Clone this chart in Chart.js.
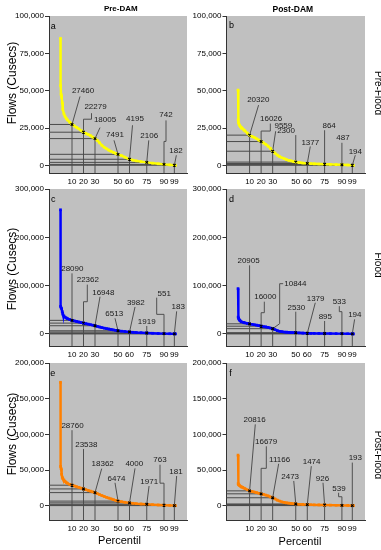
<!DOCTYPE html>
<html><head><meta charset="utf-8">
<script src="https://cdn.jsdelivr.net/npm/chart.js@4.4.0/dist/chart.umd.min.js"></script>
<style>
body{margin:0;background:#fff;width:381px;height:550px;overflow:hidden;position:relative;font-family:"Liberation Sans",Arial,sans-serif;}
canvas{position:absolute;left:0;top:0;}
.t{position:absolute;white-space:nowrap;color:#000;line-height:1;transform-origin:center center;}
</style></head><body>
<canvas id="ca" width="381" height="550"></canvas>
<canvas id="cb" width="381" height="550"></canvas>
<canvas id="cc" width="381" height="550"></canvas>
<canvas id="cd" width="381" height="550"></canvas>
<canvas id="ce" width="381" height="550"></canvas>
<canvas id="cf" width="381" height="550"></canvas>
<script>
// ---------------- DATA ----------------
const PCT_MARKS = [10, 20, 30, 50, 60, 75, 90, 99];
const CURVE_PCT = [0, 0.1, 0.5, 1, 1.5, 2, 3, 4, 5, 6, 8, 10, 12, 14, 16, 18, 20, 22, 24, 26, 28, 30, 32, 34, 36, 38, 40, 42, 44, 46, 48, 50, 53, 56, 60, 63, 66, 70, 75, 80, 85, 90, 95, 99, 100];

const aVal = [85000, 53500, 47500, 45500, 42000, 37500, 34500, 32600, 31500, 30500, 29000, 27460, 26500, 25500, 24500, 23300, 22279, 21500, 20800, 20000, 19000, 18005, 16800, 15200, 13500, 12200, 11200, 10300, 9500, 8800, 8100, 7491, 6600, 5600, 4195, 3600, 3100, 2600, 2106, 1600, 1150, 742, 450, 182, 120];
const bVal = [50500, 30500, 28500, 27300, 26600, 26000, 25300, 24600, 23900, 23200, 21700, 20320, 19500, 18800, 17900, 17000, 16026, 15200, 14200, 13000, 11500, 9559, 8300, 7000, 6000, 5200, 4600, 4000, 3500, 3100, 2700, 2300, 2000, 1700, 1377, 1250, 1150, 1000, 864, 740, 620, 487, 350, 194, 150];
const cVal = [257000, 57000, 54000, 52000, 46000, 41000, 37000, 34500, 33000, 31800, 29800, 28090, 26900, 25800, 24700, 23500, 22362, 21300, 20300, 19200, 18100, 16948, 15600, 14300, 13100, 12000, 11000, 10100, 9200, 8300, 7400, 6513, 5700, 4900, 3982, 3400, 2900, 2450, 1919, 1400, 950, 551, 350, 183, 130];
const dVal = [94000, 35000, 32000, 29500, 28000, 26800, 25200, 24200, 23600, 23000, 22000, 20905, 20000, 19000, 18100, 17000, 16000, 15200, 14400, 13500, 12300, 10844, 8800, 6900, 5500, 4600, 4000, 3600, 3300, 3000, 2750, 2530, 2200, 1800, 1379, 1250, 1150, 1030, 895, 780, 660, 533, 380, 194, 150];
const eVal = [173000, 55000, 52000, 44000, 40000, 38000, 36000, 34000, 32500, 31500, 30000, 28760, 27700, 26600, 25600, 24600, 23538, 22500, 21500, 20500, 19400, 18362, 17000, 15600, 14300, 13000, 11800, 10700, 9600, 8500, 7400, 6474, 5600, 4800, 4000, 3400, 2900, 2450, 1971, 1500, 1100, 763, 450, 181, 120];
const fVal = [71000, 31000, 29500, 28800, 28000, 27300, 26300, 25600, 24800, 24000, 22400, 20816, 20000, 19200, 18400, 17500, 16679, 15800, 14800, 13700, 12500, 11166, 9500, 7900, 6600, 5500, 4700, 4100, 3600, 3200, 2800, 2473, 2100, 1800, 1474, 1350, 1250, 1100, 926, 800, 680, 539, 380, 193, 150];

const aAnn = [27460, 22279, 18005, 7491, 4195, 2106, 742, 182];
const bAnn = [20320, 16026, 9559, 2300, 1377, 864, 487, 194];
const cAnn = [28090, 22362, 16948, 6513, 3982, 1919, 551, 183];
const dAnn = [20905, 16000, 10844, 2530, 1379, 895, 533, 194];
const eAnn = [28760, 23538, 18362, 6474, 4000, 1971, 763, 181];
const fAnn = [20816, 16679, 11166, 2473, 1474, 926, 539, 193];

const Y_TICKS_1 = [0, 25000, 50000, 75000, 100000];
const Y_TICKS_2 = [0, 100000, 200000, 300000];
const Y_TICKS_3 = [0, 50000, 100000, 150000, 200000];

// ---------------- LAYOUT (label offsets / leader paths, px relative to the point) ----------------
const LA = [
  {lab:[11,-34], path:[[8,-28]]},
  {lab:[12,-25], path:[[0,-13],[8,-13],[8,-19]]},
  {lab:[10,-19], path:[[5,-11]]},
  {lab:[-3,-20], path:[[-4,-14]]},
  {lab:[5.5,-40], path:[[3,-34]]},
  {lab:[2.5,-27], path:[[2,-22]]},
  {lab:[2,-50], path:[[0,-23],[2,-23],[2,-44]]},
  {lab:[1.6,-14.5], path:[[2,-10]]}
];
const LB = [
  {lab:[8.7,-35], path:[[9,-30]]},
  {lab:[10,-23.2], path:[[0,-10.5],[9.2,-10.5],[9.2,-18]]},
  {lab:[10.7,-25.2], path:[[3,-20]]},
  {lab:[-9.7,-30.8], path:[[0,-27]]},
  {lab:[3,-20.7], path:[[3,-17]]},
  {lab:[4.5,-38.2], path:[[0,-34]]},
  {lab:[1,-26.5], path:[[0,-22]]},
  {lab:[3,-13.5], path:[[3,-10]]}
];
const LC = [
  {lab:[0.3,-52], path:[[0,-47]]},
  {lab:[4.3,-43.1], path:[[0,-21.4],[3.8,-21.4],[3.8,-38.5]]},
  {lab:[8.3,-33], path:[[5,-29]]},
  {lab:[-3.8,-16.8], path:[[-3,-12.5]]},
  {lab:[6.3,-29.3], path:[[5.5,-25]]},
  {lab:[0,-11.3], path:[[0,-7]]},
  {lab:[0.2,-40.3], path:[[0,-19.3],[-7.3,-19.3],[-7.3,-36]]},
  {lab:[3.9,-27.1], path:[[2.3,-22.5]]}
];
const LD = [
  {lab:[-1,-63.1], path:[[0,-58.5]]},
  {lab:[4.2,-28.9], path:[[0,-13.5],[3.2,-13.5],[3.2,-24.5]]},
  {lab:[22.7,-44.7], path:[[7,-5],[7,-45],[10.5,-45]]},
  {lab:[0.6,-25.4], path:[[0,-21]]},
  {lab:[8.3,-34.9], path:[[8,-30.5]]},
  {lab:[0.7,-16.8], path:[[0,-12.5]]},
  {lab:[-2.6,-31.9], path:[[0,-22],[-2.6,-22],[-2.6,-27.5]]},
  {lab:[2.5,-18.8], path:[[2.3,-14.5]]}
];
const LE = [
  {lab:[0.5,-59.7], path:[[0,-55]]},
  {lab:[2.8,-44.6], path:[[0,-40]]},
  {lab:[7.7,-28.4], path:[[6.7,-24]]},
  {lab:[-1.5,-22.8], path:[[-3,-18.3]]},
  {lab:[4.8,-38.8], path:[[5.5,-34.5]]},
  {lab:[2.5,-22.6], path:[[2.3,-18.3]]},
  {lab:[-4,-44.9], path:[[0,-22],[-4,-22],[-4,-40.5]]},
  {lab:[1.6,-33.9], path:[[2.3,-29.6]]}
];
const LF = [
  {lab:[5,-71.1], path:[[5.7,-66.5]]},
  {lab:[5,-52.1], path:[[0,-25.5],[5.2,-25.5],[5.2,-47.5]]},
  {lab:[6.9,-38.4], path:[[6,-34]]},
  {lab:[-5.6,-27.2], path:[[-2,-23]]},
  {lab:[4.3,-42.9], path:[[4,-38.5]]},
  {lab:[-2.1,-26.7], path:[[-1.6,-22.3]]},
  {lab:[-2.9,-17], path:[[0,-8.6],[-3.3,-8.6],[-3.3,-12.6]]},
  {lab:[3,-47.3], path:[[0,-43]]}
];

const FONT = '"Liberation Sans", Arial, sans-serif';
const YELLOW = '#ffff00', BLUE = '#0000ff', ORANGE = '#ff8000';

const PANELS = [
  {id:'ca', rect:[49,16,187,173],   yMin:-5000,  yMax:100000, yTicks:Y_TICKS_1, vals:aVal, ann:aAnn, lay:LA, color:YELLOW},
  {id:'cb', rect:[226.5,16,365,173], yMin:-5000,  yMax:100000, yTicks:Y_TICKS_1, vals:bVal, ann:bAnn, lay:LB, color:YELLOW},
  {id:'cc', rect:[49,189,187,346],  yMin:-25000, yMax:300000, yTicks:Y_TICKS_2, vals:cVal, ann:cAnn, lay:LC, color:BLUE},
  {id:'cd', rect:[226.5,189,365,346],yMin:-25000, yMax:300000, yTicks:Y_TICKS_2, vals:dVal, ann:dAnn, lay:LD, color:BLUE},
  {id:'ce', rect:[49,363,187,520],  yMin:-20000, yMax:200000, yTicks:Y_TICKS_3, vals:eVal, ann:eAnn, lay:LE, color:ORANGE},
  {id:'cf', rect:[226.5,363,365,520],yMin:-20000, yMax:200000, yTicks:Y_TICKS_3, vals:fVal, ann:fAnn, lay:LF, color:ORANGE}
];
const PANEL_BY_ID = {};
PANELS.forEach(p => PANEL_BY_ID[p.id] = p);

const Y_W = 45, X_H = 14;
function fmt(v){ return String(Math.round(v)).replace(/\B(?=(\d{3})+(?!\d))/g, ','); }

const annPlugin = {
  id: 'annot',
  beforeDraw(chart){
    const a = chart.chartArea, ctx = chart.ctx;
    ctx.save();
    ctx.fillStyle = '#c0c0c0';
    ctx.fillRect(a.left, a.top, a.right - a.left, a.bottom - a.top);
    ctx.restore();
  },
  beforeDatasetsDraw(chart){
    const p = PANEL_BY_ID[chart.canvas.id]; if (!p) return;
    const ctx = chart.ctx, a = chart.chartArea, xs = chart.scales.x, ys = chart.scales.y;
    ctx.save();
    ctx.lineWidth = 1;
    p.ann.forEach((v, i) => {
      const px = xs.getPixelForValue(PCT_MARKS[i]);
      const py = ys.getPixelForValue(v);
      ctx.strokeStyle = '#4a4a4a';
      ctx.beginPath(); ctx.moveTo(a.left, py); ctx.lineTo(px, py); ctx.stroke();
      ctx.strokeStyle = '#505050';
      ctx.beginPath(); ctx.moveTo(px, a.bottom); ctx.lineTo(px, py);
      p.lay[i].path.forEach(([dx, dy]) => ctx.lineTo(px + dx, py + dy));
      ctx.stroke();
    });
    ctx.restore();
  },
  afterDatasetsDraw(chart){
    const p = PANEL_BY_ID[chart.canvas.id]; if (!p) return;
    const ctx = chart.ctx, xs = chart.scales.x, ys = chart.scales.y;
    ctx.save();
    ctx.font = '8px ' + FONT;
    ctx.fillStyle = '#1a1a1a';
    ctx.textAlign = 'center'; ctx.textBaseline = 'middle';
    p.ann.forEach((v, i) => {
      const px = xs.getPixelForValue(PCT_MARKS[i]);
      const py = ys.getPixelForValue(v);
      const [dx, dy] = p.lay[i].lab;
      ctx.fillText(String(v), px + dx, py + dy);
    });
    ctx.restore();
  }
};

PANELS.forEach(p => {
  const [l, t, r, b] = p.rect;
  new Chart(document.getElementById(p.id), {
    type: 'line',
    data: {
      datasets: [
        {
          type: 'scatter',
          data: PCT_MARKS.map((x, i) => ({x, y: p.ann[i]})),
          pointStyle: 'crossRot', pointRadius: 1.8, borderColor: '#000', backgroundColor: '#000',
          borderWidth: 1.2, order: 1
        },
        {
          data: CURVE_PCT.map((x, i) => ({x, y: p.vals[i]})),
          borderColor: p.color, backgroundColor: p.color, borderWidth: 2.4,
          pointStyle: 'rect', pointRadius: 1.9, pointBorderWidth: 0, tension: 0, order: 2
        }
      ]
    },
    options: {
      responsive: false, animation: false, devicePixelRatio: 1,
      layout: {padding: {left: l - Y_W, top: t, right: 381 - r, bottom: 550 - b - X_H}},
      plugins: {legend: {display: false}, tooltip: {enabled: false}},
      scales: {
        x: {
          type: 'linear', min: -10, max: 110,
          afterBuildTicks(s){ s.ticks = PCT_MARKS.map(v => ({value: v})); },
          afterFit(s){ s.height = X_H; },
          grid: {drawOnChartArea: false, drawTicks: false},
          border: {display: true, color: '#333', width: 1},
          ticks: {autoSkip: false, maxRotation: 0, minRotation: 0, padding: 4, color: '#000',
                  font: {size: 8, family: FONT}, callback: v => String(v)}
        },
        y: {
          type: 'linear', min: p.yMin, max: p.yMax,
          afterBuildTicks(s){ s.ticks = p.yTicks.map(v => ({value: v})); },
          afterFit(s){ s.width = Y_W; },
          grid: {drawOnChartArea: false, drawTicks: true, tickLength: 4, color: '#333'},
          border: {display: true, color: '#333', width: 1},
          ticks: {padding: 1, color: '#000', font: {size: 8, family: FONT}, callback: v => fmt(v)}
        }
      }
    },
    plugins: [annPlugin]
  });
});

// ---------------- TEXTS ----------------
function addText(txt, x, y, size, opts){
  opts = opts || {};
  const d = document.createElement('div');
  d.className = 't';
  d.textContent = txt;
  d.style.fontSize = size + 'px';
  if (opts.bold) d.style.fontWeight = 'bold';
  d.style.left = x + 'px'; d.style.top = y + 'px';
  d.style.transform = 'translate(-50%,-50%)' + (opts.rot ? ' rotate(' + opts.rot + 'deg)' : '');
  document.body.appendChild(d);
}
addText('Pre-DAM', 120.8, 9, 8, {bold: true});
addText('Post-DAM', 292.8, 9, 8.5, {bold: true});
addText('Flows (Cusecs)', 12.3, 82.5, 12, {rot: -90});
addText('Flows (Cusecs)', 12.3, 269, 12, {rot: -90});
addText('Flows (Cusecs)', 12.3, 434, 12, {rot: -90});
addText('Percentil', 119.5, 539.5, 11);
addText('Percentil', 300, 540.8, 11);
addText('Pre-Flood', 377.5, 92.5, 10, {rot: 90});
addText('Flood', 378, 265, 10, {rot: 90});
addText('Post-Flood', 377.5, 455, 10, {rot: 90});
addText('a', 53.3, 25.5, 9);
addText('b', 231.5, 25, 9);
addText('c', 53.3, 199.3, 9);
addText('d', 231.5, 199, 9);
addText('e', 52.8, 372.7, 9);
addText('f', 230.5, 373, 9);
</script>
</body></html>
